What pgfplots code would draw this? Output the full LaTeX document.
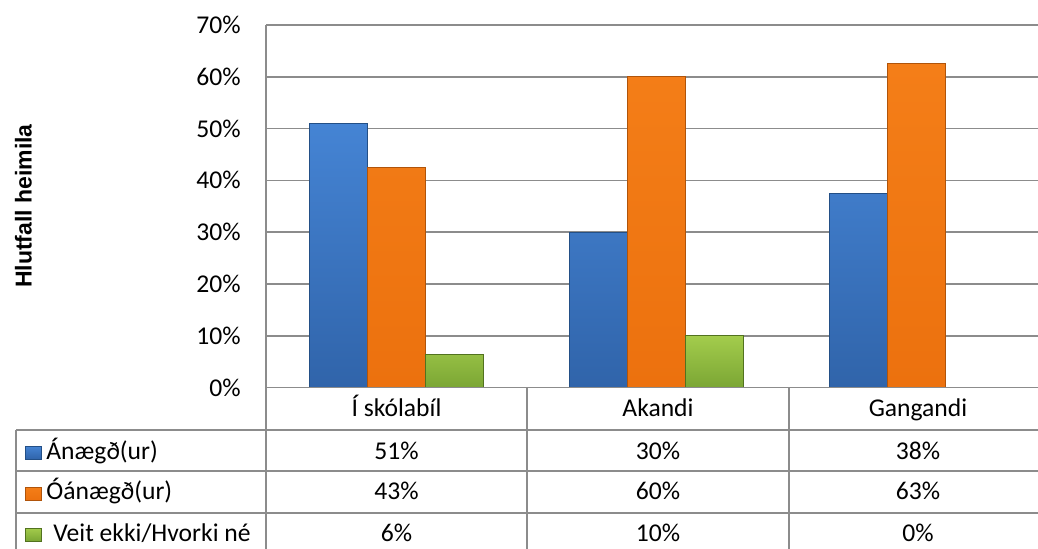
\documentclass[border=0pt]{standalone}
\usepackage{pgfplots}
\pgfplotsset{compat=1.18}
\usepackage{fontspec}
\setmainfont{Carlito}
\newfontfamily\arialb{Liberation Sans}
\definecolor{gridc}{HTML}{8C8C8C}
\definecolor{blueT}{HTML}{4584D4}
\definecolor{blueB}{HTML}{3064AA}
\definecolor{blueD}{HTML}{234F86}
\definecolor{orT}{HTML}{F47E18}
\definecolor{orB}{HTML}{EC710E}
\definecolor{orD}{HTML}{B0540A}
\definecolor{grT}{HTML}{A3CC4C}
\definecolor{grB}{HTML}{7BA634}
\definecolor{grD}{HTML}{52721F}
\begin{document}
\begin{tikzpicture}
\fontsize{12.8}{15}\selectfont
\begin{axis}[
  at={(133pt,-193.75pt)}, anchor=south west,
  scale only axis, width=390.5pt, height=181.3pt,
  xmin=-0.5, xmax=2.5, ymin=0, ymax=70,
  ybar=0pt, bar width=29pt,
  axis x line*=bottom, axis y line*=left,
  axis line style={draw=gridc, line width=0.8pt, -},
  xtick=\empty,
  ytick={0,10,...,70},
  yticklabel={\pgfmathprintnumber{\tick}\%},
  yticklabel style={font=\fontsize{12.8}{15}\selectfont, inner sep=0pt, xshift=-12.5pt},
  /pgf/number format/assume math mode=true,
  major tick length=0pt,
  ymajorgrids, grid style={draw=gridc, line width=0.8pt},
  clip=false,
]
\addplot[draw=blueD, line width=0.4pt, top color=blueT, bottom color=blueB] coordinates {(0,51) (1,30) (2,37.5)};
\addplot[draw=orD, line width=0.4pt, top color=orT, bottom color=orB] coordinates {(0,42.5) (1,60) (2,62.5)};
\addplot[draw=grD, line width=0.4pt, top color=grT, bottom color=grB] coordinates {(0,6.3) (1,10) (2,0)};
\end{axis}
\begin{scope}[x=0.5pt, y=-0.5pt]
  % y label
  \node[rotate=90, font=\arialb\bfseries\fontsize{11.5}{13}\selectfont] at (23.5,206) {Hlutfall heimila};
  % table lines
  \draw[gridc, line width=0.8pt] (266,387.5) -- (266,560);
  \draw[gridc, line width=0.8pt] (527,387.5) -- (527,560);
  \draw[gridc, line width=0.8pt] (789,387.5) -- (789,560);
  \draw[gridc, line width=0.8pt] (16,430) -- (16,560);
  \draw[gridc, line width=0.8pt] (266,387.5) -- (1060,387.5);
  \foreach \yy in {430,470.7,512.7} \draw[gridc, line width=0.8pt] (16,\yy) -- (1060,\yy);
  % category labels
  \node[anchor=base, inner sep=0pt] at (396.5,416) {Í skólabíl};
  \node[anchor=base, inner sep=0pt] at (658,416) {Akandi};
  \node[anchor=base, inner sep=0pt] at (918,416) {Gangandi};
  % row keys
  \shade[top color=blueT, bottom color=blueB, draw=blueD, line width=0.3pt] (25,446) rectangle (41,459);
  \shade[top color=orT, bottom color=orB, draw=orD, line width=0.3pt] (25,487) rectangle (41,500);
  \shade[top color=grT, bottom color=grB, draw=grD, line width=0.3pt] (25,528) rectangle (41,541);
  \node[anchor=base west, inner sep=0pt] at (46,459) {Ánægð(ur)};
  \node[anchor=base west, inner sep=0pt] at (46,499.5) {Óánægð(ur)};
  \node[anchor=base west, inner sep=0pt] at (53,541.5) {Veit ekki/Hvorki né};
  % values
  \node[anchor=base, inner sep=0pt] at (396.5,459) {51\%};
  \node[anchor=base, inner sep=0pt] at (658,459) {30\%};
  \node[anchor=base, inner sep=0pt] at (918,459) {38\%};
  \node[anchor=base, inner sep=0pt] at (396.5,499.5) {43\%};
  \node[anchor=base, inner sep=0pt] at (658,499.5) {60\%};
  \node[anchor=base, inner sep=0pt] at (918,499.5) {63\%};
  \node[anchor=base, inner sep=0pt] at (396.5,541.5) {6\%};
  \node[anchor=base, inner sep=0pt] at (658,541.5) {10\%};
  \node[anchor=base, inner sep=0pt] at (918,541.5) {0\%};
\end{scope}
\pgfresetboundingbox
\useasboundingbox (0pt,0pt) rectangle (519pt,-274pt);
\end{tikzpicture}
\end{document}
